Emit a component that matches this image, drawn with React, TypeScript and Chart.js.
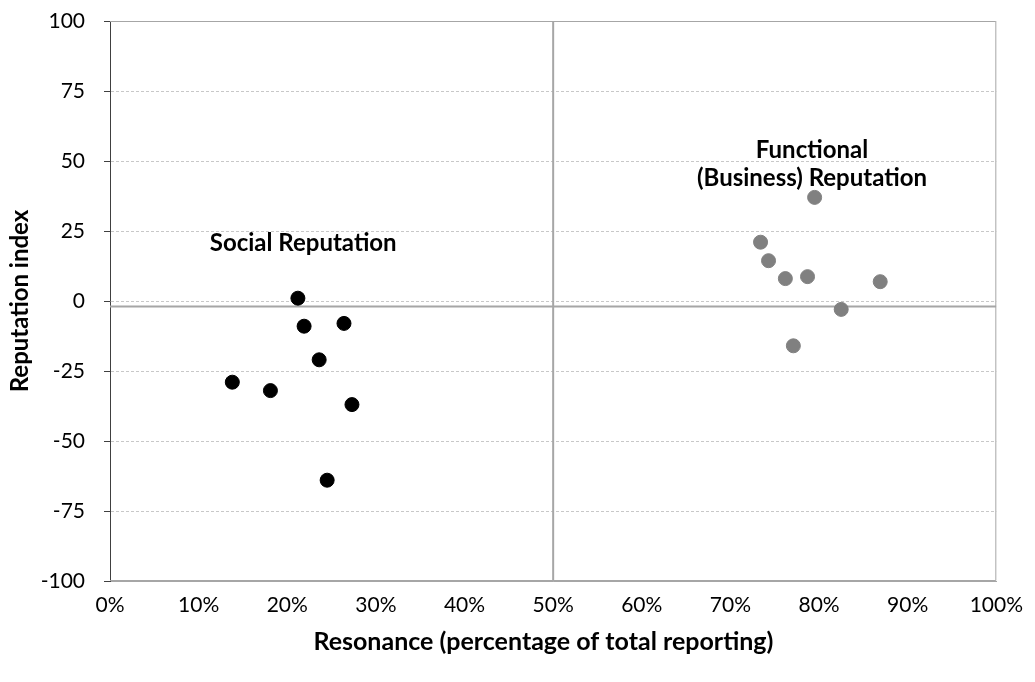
import React, { useEffect, useRef } from "react";
import { Chart, registerables } from "chart.js";

Chart.register(...registerables);

const socialX = [21.2, 21.9, 26.4, 23.6, 13.8, 18.1, 27.3, 24.5];
const socialY = [1, -9, -8, -21, -29, -32, -37, -64];
const functionalX = [79.5, 73.4, 74.3, 76.2, 78.7, 86.9, 82.5, 77.1];
const functionalY = [37, 21, 14.4, 8, 8.7, 6.9, -3, -16];
const xTickValues = [0, 10, 20, 30, 40, 50, 60, 70, 80, 90, 100];
const yTickValues = [100, 75, 50, 25, 0, -25, -50, -75, -100];
const quadrantX = 50;
const quadrantY = -2;
const xTitle = "Resonance (percentage of total reporting)";
const yTitle = "Reputation index";
const annotations = [
  { lines: ["Social Reputation"], x: 21.8, y: 20.7 },
  { lines: ["Functional", "(Business) Reputation"], x: 79.2, y: 48.9 },
];

const FONT = "Lato, 'Open Sans', sans-serif";

export default function App() {
  const ref = useRef<HTMLCanvasElement | null>(null);
  useEffect(() => {
    if (!ref.current) return;
    const borderPlugin = {
      id: "borderPlugin",
      beforeDatasetsDraw(chart: any) {
        const { ctx, chartArea } = chart;
        const ys = chart.scales.y;
        ctx.save();
        ctx.strokeStyle = "#a6a6a6";
        ctx.lineWidth = 1;
        ctx.beginPath();
        ctx.moveTo(chartArea.left, chartArea.top + 0.5);
        ctx.lineTo(chartArea.right - 0.5, chartArea.top + 0.5);
        ctx.lineTo(chartArea.right - 0.5, chartArea.bottom - 0.5);
        ctx.lineTo(chartArea.left, chartArea.bottom - 0.5);
        ctx.stroke();
        // y tick marks
        ctx.strokeStyle = "#404040";
        ctx.beginPath();
        for (const v of yTickValues) {
          const py = Math.round(ys.getPixelForValue(v)) + 0.5;
          ctx.moveTo(chartArea.left - 6, py);
          ctx.lineTo(chartArea.left, py);
        }
        ctx.stroke();
        ctx.restore();
      },
      afterDatasetsDraw(chart: any) {
        const { ctx, chartArea } = chart;
        const xs = chart.scales.x;
        const ys = chart.scales.y;
        ctx.save();
        ctx.fillStyle = "#000";
        ctx.font = `bold 24px ${FONT}`;
        ctx.textAlign = "center";
        ctx.textBaseline = "middle";
        for (const a of annotations) {
          const cx = xs.getPixelForValue(a.x);
          const cy = ys.getPixelForValue(a.y);
          const n = a.lines.length;
          a.lines.forEach((l, i) => {
            ctx.fillText(l, cx, cy + (i - (n - 1) / 2) * 28);
          });
        }
        // x title
        ctx.font = `bold 25px ${FONT}`;
        ctx.fillText(xTitle, chartArea.left + (chartArea.right - chartArea.left) * 0.489, chartArea.bottom + 61);
        // y title
        ctx.font = `bold 24px ${FONT}`;
        ctx.translate(20, (chartArea.top + chartArea.bottom) / 2);
        ctx.rotate(-Math.PI / 2);
        ctx.fillText(yTitle, 0, 0);
        ctx.restore();
      },
    };
    const chart = new Chart(ref.current, {
      type: "scatter",
      data: {
        datasets: [
          {
            label: "Social",
            data: socialX.map((x, i) => ({ x, y: socialY[i] })),
            backgroundColor: "#000000",
            borderColor: "#000000",
            pointRadius: 7,
            pointHoverRadius: 7,
          },
          {
            label: "Functional",
            data: functionalX.map((x, i) => ({ x, y: functionalY[i] })),
            backgroundColor: "#808080",
            borderColor: "#808080",
            pointRadius: 7,
            pointHoverRadius: 7,
          },
          {
            label: "vline",
            data: [
              { x: quadrantX, y: -100 },
              { x: quadrantX, y: 100 },
            ],
            showLine: true,
            borderColor: "#a6a6a6",
            borderWidth: 2,
            pointRadius: 0,
          } as any,
          {
            label: "hline",
            data: [
              { x: 0, y: quadrantY },
              { x: 100, y: quadrantY },
            ],
            showLine: true,
            borderColor: "#a6a6a6",
            borderWidth: 2,
            pointRadius: 0,
          } as any,
        ],
      },
      options: {
        animation: false,
        responsive: false,
        maintainAspectRatio: false,
        layout: { padding: { top: 21, right: 36, left: 0, bottom: 0 } },
        plugins: { legend: { display: false }, tooltip: { enabled: false } },
        scales: {
          x: {
            type: "linear",
            min: 0,
            max: 100,
            afterBuildTicks(scale: any) {
              scale.ticks = xTickValues.map((v) => ({ value: v }));
            },
            afterFit(scale: any) {
              scale.height = 101;
            },
            grid: { display: false, drawTicks: false },
            border: { display: true, color: "#a6a6a6" },
            ticks: {
              color: "#000",
              font: { family: FONT, size: 21 },
              padding: 12,
              maxRotation: 0,
              autoSkip: false,
              callback: (v: any) => `${v}%`,
            },
            title: { display: false },
          },
          y: {
            type: "linear",
            min: -100,
            max: 100,
            afterBuildTicks(scale: any) {
              scale.ticks = yTickValues.map((v) => ({ value: v }));
            },
            afterFit(scale: any) {
              scale.width = 110;
            },
            grid: {
              color: "#c8c8c8",
              lineWidth: 1,
              tickColor: "rgba(0,0,0,0)",
              tickLength: 25,
              drawTicks: true,
            },
            border: { display: true, color: "#404040", dash: [3, 2] },
            ticks: {
              color: "#000",
              font: { family: FONT, size: 21 },
              padding: 0,
              autoSkip: false,
            },
            title: { display: false },
          },
        },
      },
      plugins: [borderPlugin],
    });
    return () => chart.destroy();
  }, []);
  return (
    <div style={{ position: "fixed", left: 0, top: 0, width: 1035, height: 682, background: "#fff" }}>
      <canvas ref={ref} width={1035} height={682} style={{ width: 1035, height: 682 }} />
    </div>
  );
}
